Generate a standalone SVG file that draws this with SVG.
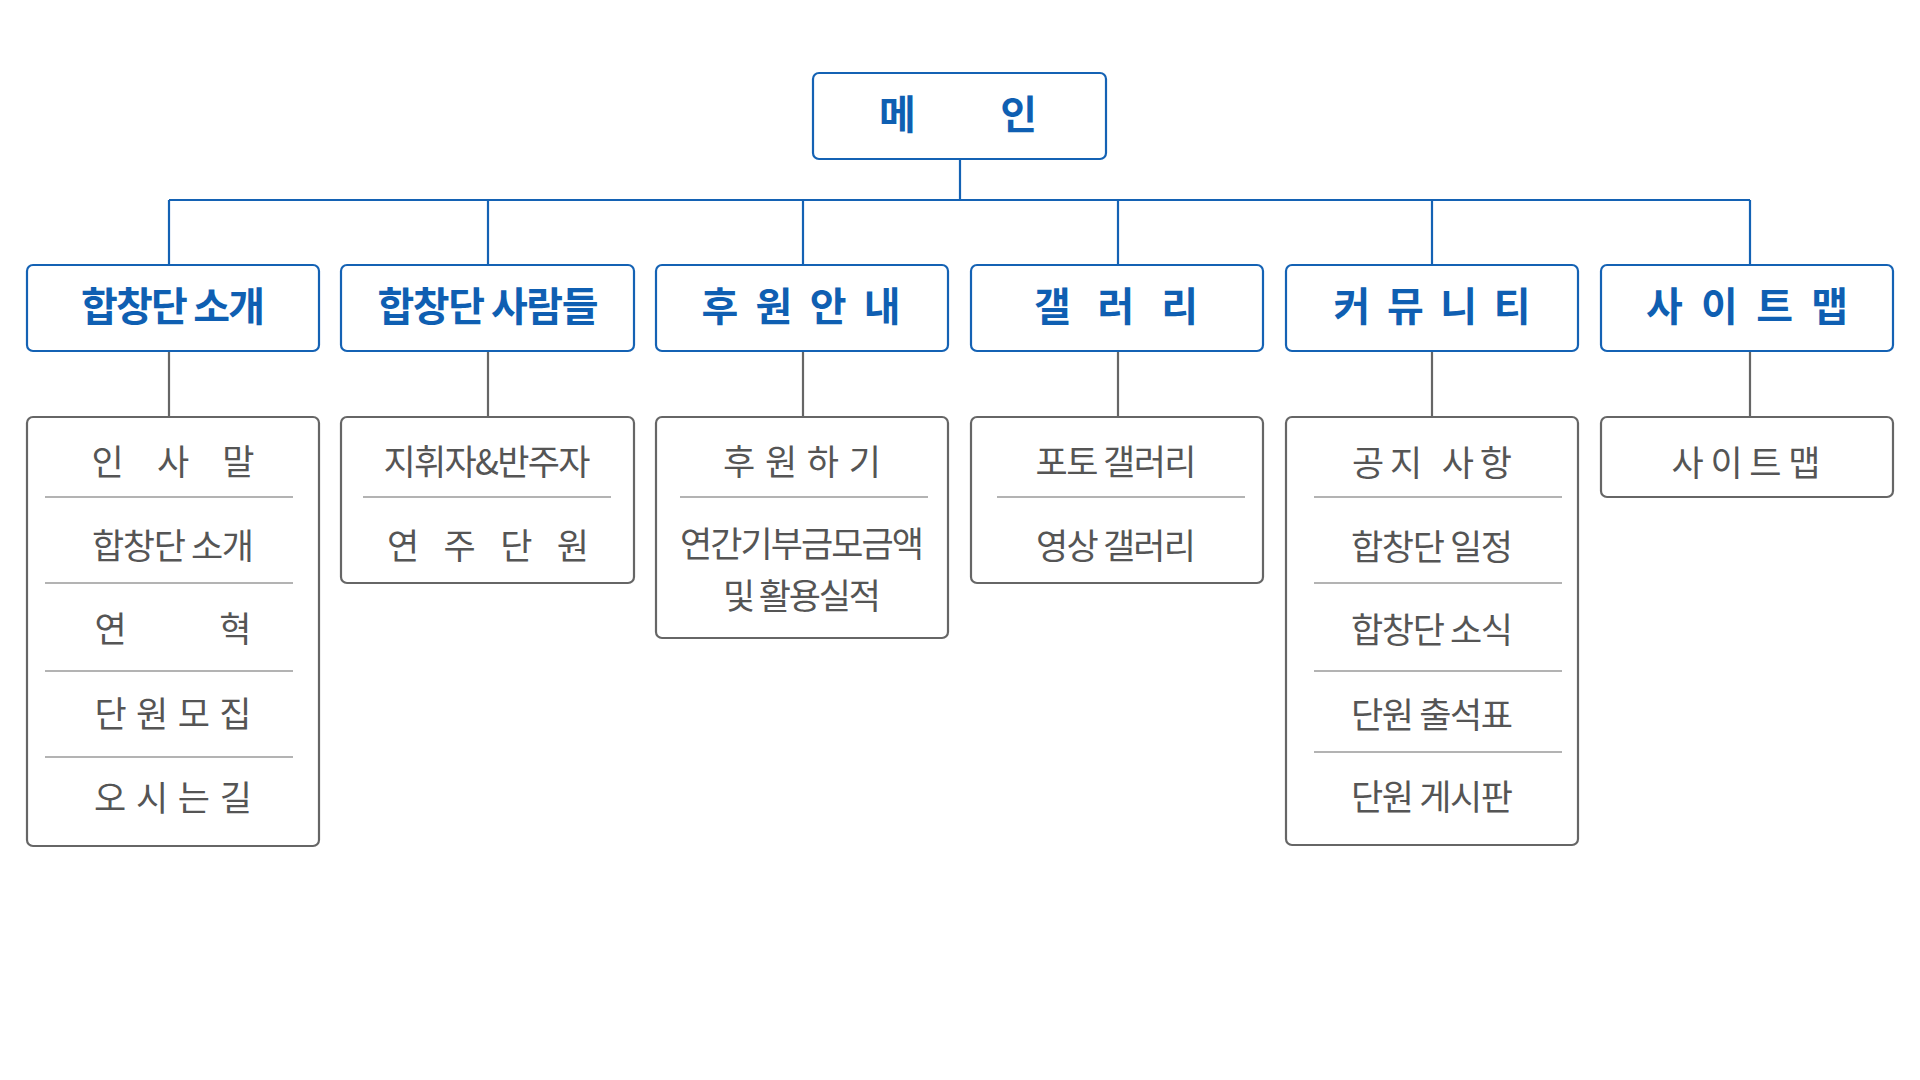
<svg xmlns="http://www.w3.org/2000/svg" width="1920" height="1080" viewBox="0 0 1920 1080">
<style>
.bg{fill:#ffffff}
.bbox{fill:#ffffff;stroke:#1462b4;stroke-width:2.2}
.gbox{fill:#ffffff;stroke:#666666;stroke-width:2.2}
.bt{font-family:"Noto Sans CJK KR","Noto Sans",sans-serif;font-weight:bold;font-size:40px;fill:#0f5fb2;text-anchor:middle;dominant-baseline:central}
.gt{font-family:"Noto Sans CJK KR","Noto Sans",sans-serif;font-size:35px;fill:#555555;text-anchor:middle;dominant-baseline:central}
.sep{stroke:#9a9a9a;stroke-width:1.5}
.bl{stroke:#1462b4;stroke-width:2.2;fill:none}
.gl{stroke:#666666;stroke-width:2.2;fill:none}
</style>
<rect class="bg" x="0" y="0" width="1920" height="1080"/>
<g id="connectors">
<path class="bl" d="M960 159 V200 M169 200 H1750 M169 200 V265 M488 200 V265 M803 200 V265 M1118 200 V265 M1432 200 V265 M1750 200 V265"/>
<path class="gl" d="M169 351 V417 M488 351 V417 M803 351 V417 M1118 351 V417 M1432 351 V417 M1750 351 V417"/>
</g>
<g id="main">
<rect class="bbox" x="813" y="73" width="293" height="86" rx="6"/>
<text class="bt" x="958" y="112" textLength="158" lengthAdjust="spacing">메 인</text>
</g>
<g id="n1">
<rect class="bbox" x="27" y="265" width="292" height="86" rx="6"/>
<text class="bt" x="173" y="304" textLength="184" lengthAdjust="spacing">합창단 소개</text>
</g>
<g id="n2">
<rect class="bbox" x="341" y="265" width="293" height="86" rx="6"/>
<text class="bt" x="488" y="304" textLength="221" lengthAdjust="spacing">합창단 사람들</text>
</g>
<g id="n3">
<rect class="bbox" x="656" y="265" width="292" height="86" rx="6"/>
<text class="bt" x="801" y="304" textLength="199" lengthAdjust="spacing">후 원 안 내</text>
</g>
<g id="n4">
<rect class="bbox" x="971" y="265" width="292" height="86" rx="6"/>
<text class="bt" x="1116" y="304" textLength="164" lengthAdjust="spacing">갤 러 리</text>
</g>
<g id="n5">
<rect class="bbox" x="1286" y="265" width="292" height="86" rx="6"/>
<text class="bt" x="1432" y="304" textLength="197" lengthAdjust="spacing">커 뮤 니 티</text>
</g>
<g id="n6">
<rect class="bbox" x="1601" y="265" width="292" height="86" rx="6"/>
<text class="bt" x="1747" y="304" textLength="202" lengthAdjust="spacing">사 이 트 맵</text>
</g>
<g id="c1">
<rect class="gbox" x="27" y="417" width="292" height="429" rx="6"/>
<path class="sep" d="M45 497 H293 M45 583 H293 M45 671 H293 M45 757 H293"/>
<text class="gt" x="173" y="459" textLength="163" lengthAdjust="spacing">인 사 말</text>
<text class="gt" x="173" y="543" textLength="162" lengthAdjust="spacing">합창단 소개</text>
<text class="gt" x="173" y="626" textLength="157" lengthAdjust="spacing">연 혁</text>
<text class="gt" x="173" y="711" textLength="157" lengthAdjust="spacing">단 원 모 집</text>
<text class="gt" x="173" y="795" textLength="158" lengthAdjust="spacing">오 시 는 길</text>
</g>
<g id="c2">
<rect class="gbox" x="341" y="417" width="293" height="166" rx="6"/>
<path class="sep" d="M363 497 H611"/>
<text class="gt" x="487" y="459" textLength="207" lengthAdjust="spacing">지휘자&amp;반주자</text>
<text class="gt" x="488" y="543" textLength="202" lengthAdjust="spacing">연 주 단 원</text>
</g>
<g id="c3">
<rect class="gbox" x="656" y="417" width="292" height="221" rx="6"/>
<path class="sep" d="M680 497 H928"/>
<text class="gt" x="802" y="459" textLength="158" lengthAdjust="spacing">후 원 하 기</text>
<text class="gt" x="802" y="541" textLength="244" lengthAdjust="spacing">연간기부금모금액</text>
<text class="gt" x="802" y="593" textLength="158" lengthAdjust="spacing">및 활용실적</text>
</g>
<g id="c4">
<rect class="gbox" x="971" y="417" width="292" height="166" rx="6"/>
<path class="sep" d="M997 497 H1245"/>
<text class="gt" x="1116" y="459" textLength="161" lengthAdjust="spacing">포토 갤러리</text>
<text class="gt" x="1116" y="543" textLength="160" lengthAdjust="spacing">영상 갤러리</text>
</g>
<g id="c5">
<rect class="gbox" x="1286" y="417" width="292" height="428" rx="6"/>
<path class="sep" d="M1314 497 H1562 M1314 583 H1562 M1314 671 H1562 M1314 752 H1562"/>
<text class="gt" x="1432" y="460" textLength="160" lengthAdjust="spacing">공지 사항</text>
<text class="gt" x="1432" y="544" textLength="162" lengthAdjust="spacing">합창단 일정</text>
<text class="gt" x="1432" y="627" textLength="162" lengthAdjust="spacing">합창단 소식</text>
<text class="gt" x="1432" y="712" textLength="162" lengthAdjust="spacing">단원 출석표</text>
<text class="gt" x="1432" y="794" textLength="162" lengthAdjust="spacing">단원 게시판</text>
</g>
<g id="c6">
<rect class="gbox" x="1601" y="417" width="292" height="80" rx="6"/>
<text class="gt" x="1746" y="460" textLength="149" lengthAdjust="spacing">사 이 트 맵</text>
</g>
</svg>
